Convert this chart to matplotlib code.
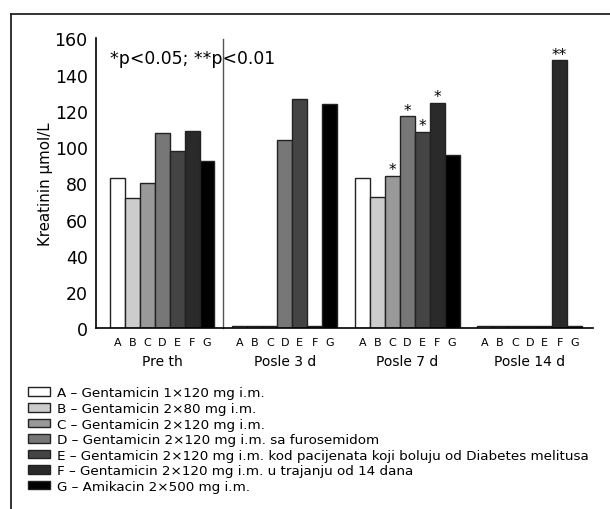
import matplotlib
matplotlib.use("Agg")
import matplotlib.pyplot as plt
from matplotlib.patches import Patch
from matplotlib.lines import Line2D
import matplotlib.transforms as mtransforms

plt.rcParams['font.family'] = ['DejaVu Sans']

groups = ["Pre th", "Posle 3 d", "Posle 7 d", "Posle 14 d"]
letters = ["A", "B", "C", "D", "E", "F", "G"]
legend_labels = [
    "A – Gentamicin 1×120 mg i.m.",
    "B – Gentamicin 2×80 mg i.m.",
    "C – Gentamicin 2×120 mg i.m.",
    "D – Gentamicin 2×120 mg i.m. sa furosemidom",
    "E – Gentamicin 2×120 mg i.m. kod pacijenata koji boluju od Diabetes melitusa",
    "F – Gentamicin 2×120 mg i.m. u trajanju od 14 dana",
    "G – Amikacin 2×500 mg i.m.",
]
# values per group, order A..G
pre_th = [83, 72, 80, 108, 98, 109, 92.5]
posle_3d = [1, 1, 1, 104, 126.5, 1, 124]
posle_7d = [83, 72.5, 84, 117, 108.5, 124.5, 95.5]
posle_14d = [1, 1, 1, 1, 1, 148, 1]
values = [pre_th, posle_3d, posle_7d, posle_14d]
# significance marks per group
marks = [
    ["", "", "", "", "", "", ""],
    ["", "", "", "", "", "", ""],
    ["", "", "*", "*", "*", "*", ""],
    ["", "", "", "", "", "**", ""],
]
y_ticks = [0, 20, 40, 60, 80, 100, 120, 140, 160]
annotation = "*p<0.05; **p<0.01"
ylabel = "Kreatinin μmol/L"

colors = ["#ffffff", "#cccccc", "#999999", "#777777", "#444444", "#2a2a2a", "#000000"]
edge = "#222222"

W, H = 610, 510
fig = plt.figure(figsize=(W / 100, H / 100), dpi=100)

# outer frame (left and top visible)
fig.add_artist(Line2D([11 / W, 11 / W], [0, 1 - 14.7 / H], transform=fig.transFigure,
                      color="#222222", lw=1.3))
fig.add_artist(Line2D([11 / W, 1], [1 - 14.7 / H, 1 - 14.7 / H], transform=fig.transFigure,
                      color="#222222", lw=1.3))

left, right = 96 / W, 593 / W
bottom, top = 1 - 329.3 / H, 1 - 39.3 / H
ax = fig.add_axes([left, bottom, right - left, top - bottom])

step = 8.2
xticks, xlabels = [], []
for g, vals in enumerate(values):
    for i, v in enumerate(vals):
        x = g * step + i + 0.5
        ax.bar(x, v, width=1.0, color=colors[i], edgecolor=edge, linewidth=1.0)
        xticks.append(x)
        xlabels.append(letters[i])
        if marks[g][i]:
            ax.text(x, v - 0.8, marks[g][i], ha="center", va="bottom", fontsize=11)

ax.set_xlim(-0.93, 3 * step + 7 + 0.73)
ax.set_ylim(0, 160)
ax.set_yticks(y_ticks)
ax.set_yticklabels([str(t) for t in y_ticks], fontsize=12.5)
ax.set_xticks(xticks)
ax.set_xticklabels(xlabels, fontsize=8)
ax.tick_params(axis="y", length=0, pad=6)
ax.tick_params(axis="x", length=0, pad=6)
for s in ["top", "right"]:
    ax.spines[s].set_visible(False)
ax.spines["left"].set_linewidth(1.2)
ax.spines["bottom"].set_linewidth(1.2)
ax.set_ylabel(ylabel, fontsize=10.8, labelpad=1)

# separator line
sep_x = 7.6
ax.plot([sep_x, sep_x], [0, 159.5], color="#555555", lw=1.0, clip_on=False)

ax.text(0.0, 149, annotation, ha="left", va="center", fontsize=12.4)

trans = mtransforms.blended_transform_factory(ax.transData, fig.transFigure)
for g, name in enumerate(groups):
    ax.text(g * step + 3.5, 1 - 361.7 / H, name, ha="center", va="center",
            fontsize=10, transform=trans)

handles = [Patch(facecolor=c, edgecolor=edge, linewidth=1.0) for c in colors]
fig.legend(handles, legend_labels, loc="upper left",
           bbox_to_anchor=(28 / W, 1 - 387.5 / H), bbox_transform=fig.transFigure,
           frameon=False, fontsize=9.7, borderpad=0, borderaxespad=0,
           labelspacing=0.19, handlelength=1.65, handleheight=0.6,
           handletextpad=0.5)

fig.savefig("out.png", dpi=100)
